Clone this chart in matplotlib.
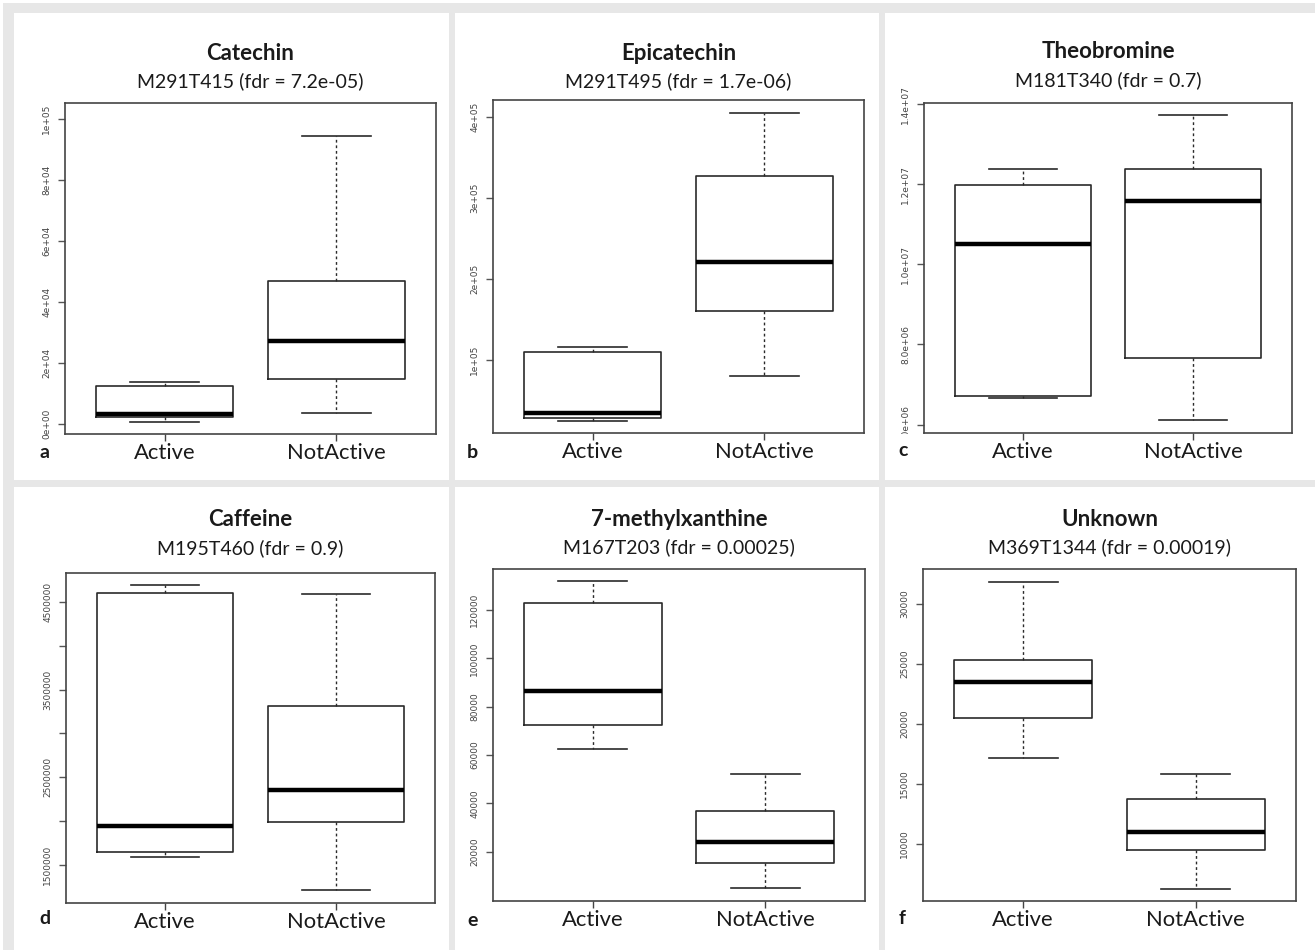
import matplotlib
matplotlib.use("Agg")
import matplotlib.pyplot as plt
from matplotlib.patches import Rectangle
from matplotlib.transforms import Bbox, TransformedBbox

W, H = 1315, 950
DPI = 100

groups = ["Active", "NotActive"]

titles = ["Catechin", "Epicatechin", "Theobromine", "Caffeine", "7-methylxanthine", "Unknown"]
subtitles = ["M291T415 (fdr = 7.2e-05)", "M291T495 (fdr = 1.7e-06)", "M181T340 (fdr = 0.7)",
             "M195T460 (fdr = 0.9)", "M167T203 (fdr = 0.00025)", "M369T1344 (fdr = 0.00019)"]
letters = ["a", "b", "c", "d", "e", "f"]

# five-number summaries: [whisker low, Q1, median, Q3, whisker high] for Active, NotActive
catechin_active = [650, 2400, 3200, 12300, 13800]
catechin_notactive = [3700, 14800, 27300, 46900, 94400]
epicatechin_active = [25100, 28300, 34500, 109500, 115700]
epicatechin_notactive = [80200, 160200, 220400, 327100, 404600]
theobromine_active = [6.664e6, 6.724e6, 10.52e6, 11.975e6, 12.37e6]
theobromine_notactive = [6.107e6, 7.66e6, 11.575e6, 12.39e6, 13.73e6]
caffeine_active = [1.595e6, 1.648e6, 1.941e6, 4.604e6, 4.695e6]
caffeine_notactive = [1.215e6, 1.994e6, 2.36e6, 3.31e6, 4.587e6]
methylxanthine_active = [62600, 72300, 86600, 122800, 132000]
methylxanthine_notactive = [4870, 15200, 24000, 36800, 52200]
unknown_active = [17157, 20513, 23509, 25284, 31858]
unknown_notactive = [6227, 9501, 10943, 13717, 15798]

series = [
    (catechin_active, catechin_notactive),
    (epicatechin_active, epicatechin_notactive),
    (theobromine_active, theobromine_notactive),
    (caffeine_active, caffeine_notactive),
    (methylxanthine_active, methylxanthine_notactive),
    (unknown_active, unknown_notactive),
]

# y ticks and labels
yticks = [
    [0, 20000, 40000, 60000, 80000, 100000],
    [100000, 200000, 300000, 400000],
    [6e6, 8e6, 10e6, 12e6, 14e6],
    [1.5e6, 2.0e6, 2.5e6, 3.0e6, 3.5e6, 4.0e6, 4.5e6],
    [20000, 40000, 60000, 80000, 100000, 120000],
    [10000, 15000, 20000, 25000, 30000],
]
yticklabels = [
    ["0e+00", "2e+04", "4e+04", "6e+04", "8e+04", "1e+05"],
    ["1e+05", "2e+05", "3e+05", "4e+05"],
    ["6.0e+06", "8.0e+06", "1.0e+07", "1.2e+07", "1.4e+07"],
    ["1500000", "", "2500000", "", "3500000", "", "4500000"],
    ["20000", "40000", "60000", "80000", "100000", "120000"],
    ["10000", "15000", "20000", "25000", "30000"],
]
ylims = [
    (-3300, 105200),
    (9800, 421000),
    (5.79e6, 14.03e6),
    (1.067e6, 4.83e6),
    (-400, 137000),
    (5229, 32913),
]

# layout in pixels (left, right, top, bottom)
axes_px = [
    (65, 436, 103, 434),
    (493, 864, 100, 433),
    (924, 1292, 103, 433),
    (66, 435, 573, 903),
    (493, 865, 569, 901),
    (923, 1296, 569, 901),
]
# clip regions (left, right, top, bottom) for y tick labels
clip_px = [
    (14, 449, 13, 480),
    (455, 879, 13, 480),
    (885, 1315, 13, 434),
    (14, 449, 487, 950),
    (455, 879, 487, 950),
    (885, 1315, 487, 950),
]
title_y = [53, 53, 52, 520, 520, 520]
sub_y = [81, 81, 80, 548, 547, 547]
letter_xy = [(45, 452), (472, 452), (903, 451), (45, 918), (473, 920), (902, 918)]

plt.rcParams['font.family'] = ['Lato', 'DejaVu Sans']

fig = plt.figure(figsize=(W / DPI, H / DPI), dpi=DPI)
fig.patch.set_facecolor("white")

gray = "#e7e7e7"
# background frame lines
for (x0, y0, w, h) in [(3, 3, W - 3, 10), (3, 3, 11, H - 3), (449, 10, 6, H), (879, 10, 6, H), (3, 480, W, 7)]:
    fig.patches.append(Rectangle((x0 / W, 1 - (y0 + h) / H), w / W, h / H,
                                 transform=fig.transFigure, facecolor=gray, edgecolor="none", zorder=0))

line_col = "#2a2a2a"
for i in range(6):
    l, r, t, b = axes_px[i]
    ax = fig.add_axes([l / W, 1 - b / H, (r - l) / W, (b - t) / H])
    ax.set_facecolor("none")
    act, nact = series[i]
    stats = []
    for name, s in zip(groups, (act, nact)):
        stats.append(dict(label=name, whislo=s[0], q1=s[1], med=s[2], q3=s[3], whishi=s[4], fliers=[]))
    ax.bxp(stats, positions=[1, 2], widths=0.8, capwidths=0.4, showfliers=False,
           boxprops=dict(color=line_col, linewidth=1.2),
           whiskerprops=dict(color=line_col, linewidth=1.0, linestyle=(0, (2, 2))),
           capprops=dict(color=line_col, linewidth=1.2),
           medianprops=dict(color="black", linewidth=3.2, solid_capstyle="butt"))
    ax.set_xlim(0.42, 2.58)
    ax.set_ylim(*ylims[i])
    for sp in ax.spines.values():
        sp.set_color("#444444")
        sp.set_linewidth(1.2)
    ax.set_xticks([1, 2])
    ax.set_xticklabels(groups, fontsize=15.8, color="#1a1a1a")
    ax.tick_params(axis="x", length=5, width=1, color="#444444", pad=1.5)
    ax.set_yticks(yticks[i])
    ax.set_yticklabels(yticklabels[i], rotation=90, va="center", fontsize=6.5,
                       color="#444444", family="DejaVu Sans")
    ax.tick_params(axis="y", length=5, width=1, color="#555555", pad=5)
    pl, pr, pt, pb = clip_px[i]
    clip = TransformedBbox(Bbox([[pl / W, 1 - pb / H], [pr / W, 1 - pt / H]]), fig.transFigure)
    for lab in ax.get_yticklabels():
        lab.set_clip_box(clip)
        lab.set_clip_on(True)
    cx = (l + r) / 2 / W
    fig.text(cx, 1 - title_y[i] / H, titles[i], ha="center", va="center",
             fontsize=16, fontweight="bold", color="#1a1a1a")
    fig.text(cx, 1 - sub_y[i] / H, subtitles[i], ha="center", va="center",
             fontsize=14, color="#1a1a1a")
    lx, ly = letter_xy[i]
    fig.text(lx / W, 1 - ly / H, letters[i], ha="center", va="center",
             fontsize=14, fontweight="bold", color="#1a1a1a")

fig.savefig("out.png", dpi=DPI)
